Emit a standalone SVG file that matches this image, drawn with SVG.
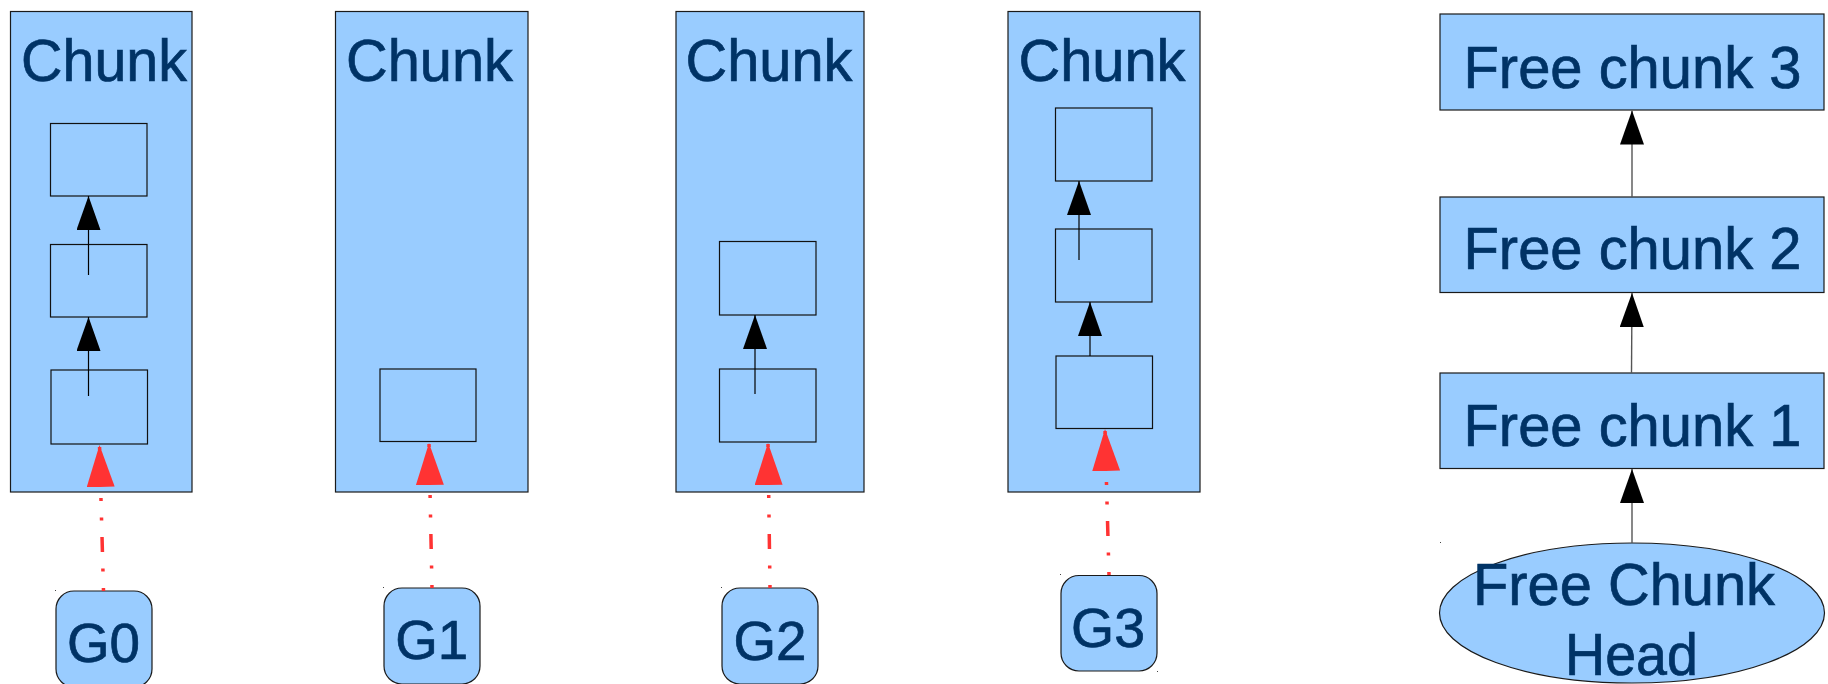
<svg xmlns="http://www.w3.org/2000/svg" width="1828" height="684" viewBox="0 0 1828 684">
  <style>
    .box { fill: #99ccff; stroke: #1a1a1a; stroke-width: 1.2; }
    .slot { fill: #99ccff; stroke: #111; stroke-width: 1.2; }
    .label { font-family: "Liberation Sans", Arial, sans-serif; fill: #003366; stroke: #003366; stroke-width: 0.7; text-anchor: middle; }
    .big { font-size: 60px; }
    .g { font-size: 56px; }
    .link { stroke: #000; stroke-width: 1.2; fill: none; marker-end: url(#head); }
    .flink { stroke: #555; stroke-width: 1.4; fill: none; marker-end: url(#head); }
    .owner { stroke: #ff3333; stroke-width: 3.5; fill: none; stroke-dasharray: 3 16.5 3 16.5 15 16.5; marker-end: url(#redhead); }
    .corner { fill: #444; }
  </style>
  <defs>
    <marker id="head" markerUnits="userSpaceOnUse" markerWidth="34" markerHeight="24" refX="34" refY="12" orient="auto" viewBox="0 0 34 24">
      <path d="M0,0 L34,12 L0,24 Z" fill="#000"/>
    </marker>
    <marker id="redhead" markerUnits="userSpaceOnUse" markerWidth="42" markerHeight="28" refX="42" refY="14" orient="auto" viewBox="0 0 42 28">
      <path d="M0,0 L42,14 L0,28 Z" fill="#ff3333"/>
    </marker>
  </defs>

  <!-- memory chunks with their allocation slots -->
  <g id="chunk0">
    <rect class="box" x="10.5" y="11.5" width="181.5" height="480.5"/>
    <text class="label big" x="104" y="81" textLength="166" lengthAdjust="spacingAndGlyphs">Chunk</text>
    <rect class="slot" x="50.5" y="123.5" width="96.5" height="72.5"/>
    <rect class="slot" x="50.5" y="244.5" width="96.5" height="72.5"/>
    <rect class="slot" x="51" y="370" width="96.5" height="74"/>
  </g>
  <g id="chunk1">
    <rect class="box" x="335.5" y="11.5" width="192.5" height="480.5"/>
    <text class="label big" x="429.5" y="81" textLength="167" lengthAdjust="spacingAndGlyphs">Chunk</text>
    <rect class="slot" x="380" y="369" width="96" height="72.5"/>
  </g>
  <g id="chunk2">
    <rect class="box" x="676" y="11.5" width="188" height="480.5"/>
    <text class="label big" x="769" y="81" textLength="167" lengthAdjust="spacingAndGlyphs">Chunk</text>
    <rect class="slot" x="719.5" y="241.5" width="96.5" height="73.5"/>
    <rect class="slot" x="719.5" y="369" width="96.5" height="73"/>
  </g>
  <g id="chunk3">
    <rect class="box" x="1008" y="11.5" width="192" height="480.5"/>
    <text class="label big" x="1102" y="81" textLength="167" lengthAdjust="spacingAndGlyphs">Chunk</text>
    <rect class="slot" x="1055.5" y="108" width="96.5" height="73"/>
    <rect class="slot" x="1055.5" y="229" width="96.5" height="73"/>
    <rect class="slot" x="1056" y="356" width="96.5" height="72.5"/>
  </g>

  <!-- goroutine / thread owners -->
  <g id="g0">
    <rect class="box" x="56" y="591" width="96" height="96" rx="18"/>
    <text class="label g" x="103.5" y="662" textLength="73" lengthAdjust="spacingAndGlyphs">G0</text>
    <rect class="corner" x="55" y="590" width="1" height="1"/>
  </g>
  <g id="g1">
    <rect class="box" x="384" y="588" width="96" height="96" rx="18"/>
    <text class="label g" x="431.7" y="659" textLength="73" lengthAdjust="spacingAndGlyphs">G1</text>
    <rect class="corner" x="383" y="587" width="1" height="1"/>
  </g>
  <g id="g2">
    <rect class="box" x="722" y="588" width="96" height="96" rx="18"/>
    <text class="label g" x="770" y="660" textLength="73" lengthAdjust="spacingAndGlyphs">G2</text>
    <rect class="corner" x="721" y="587" width="1" height="1"/>
  </g>
  <g id="g3">
    <rect class="box" x="1061" y="575.5" width="96" height="95.5" rx="18"/>
    <text class="label g" x="1108" y="647" textLength="74" lengthAdjust="spacingAndGlyphs">G3</text>
    <rect class="corner" x="1060" y="574" width="1" height="1"/>
    <rect class="corner" x="1157" y="671" width="1" height="1"/>
  </g>

  <!-- free chunk list -->
  <g id="free3">
    <rect class="box" x="1440" y="14" width="384" height="96"/>
    <text class="label big" x="1632.5" y="88" textLength="338" lengthAdjust="spacingAndGlyphs">Free chunk 3</text>
  </g>
  <g id="free2">
    <rect class="box" x="1440" y="197" width="384" height="95.5"/>
    <text class="label big" x="1632.5" y="269" textLength="338" lengthAdjust="spacingAndGlyphs">Free chunk 2</text>
  </g>
  <g id="free1">
    <rect class="box" x="1440" y="373" width="384" height="95.5"/>
    <text class="label big" x="1632.5" y="446" textLength="338" lengthAdjust="spacingAndGlyphs">Free chunk 1</text>
  </g>
  <g id="freehead">
    <ellipse class="box" cx="1632" cy="613" rx="192.5" ry="70"/>
    <text class="label big" x="1624" y="605" textLength="302" lengthAdjust="spacingAndGlyphs">Free Chunk</text>
    <text class="label big" x="1631.5" y="675" textLength="133" lengthAdjust="spacingAndGlyphs">Head</text>
    <rect class="corner" x="1440" y="542" width="1" height="1"/>
  </g>

  <!-- connectors -->
  <g id="connectors">
    <line class="link" x1="88.5" y1="275" x2="88.5" y2="196"/>
    <line class="link" x1="88.5" y1="396" x2="88.5" y2="317"/>
    <line class="link" x1="755" y1="394" x2="755" y2="315"/>
    <line class="link" x1="1079" y1="260" x2="1079" y2="181"/>
    <line class="link" x1="1090" y1="356" x2="1090" y2="302"/>

    <line class="flink" x1="1632" y1="543" x2="1632" y2="469"/>
    <line class="flink" x1="1631.5" y1="373" x2="1632" y2="293"/>
    <line class="flink" x1="1632" y1="197" x2="1632" y2="110.5"/>

    <line class="owner" x1="103.5" y1="591" x2="99.5" y2="445"/>
    <line class="owner" x1="432" y1="588" x2="429" y2="443"/>
    <line class="owner" x1="770" y1="588" x2="768" y2="443"/>
    <line class="owner" x1="1109" y1="575" x2="1105" y2="429"/>
  </g>
</svg>
